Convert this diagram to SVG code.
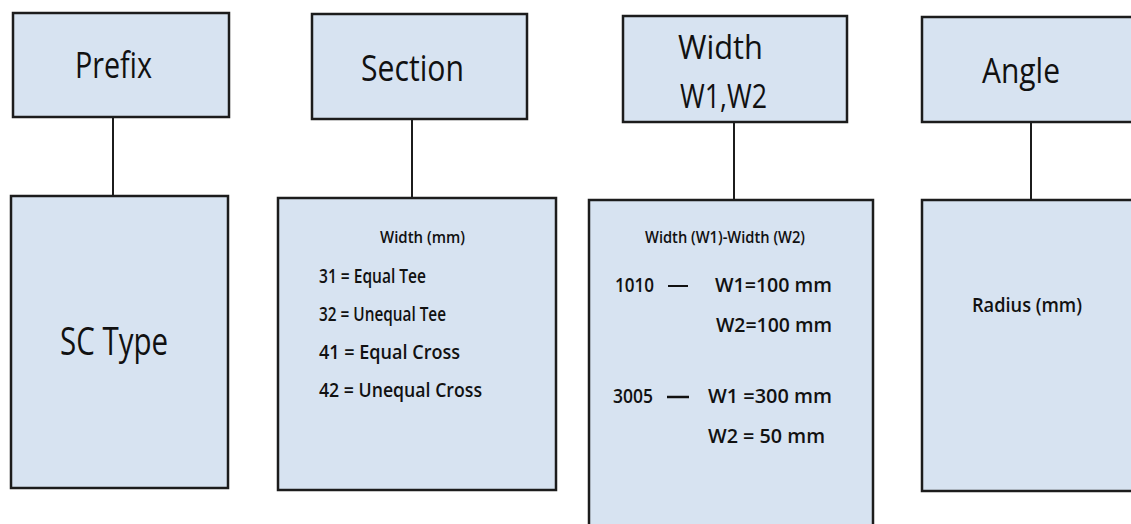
<svg xmlns="http://www.w3.org/2000/svg" width="1131" height="524" viewBox="0 0 1131 524">
<style>
.box{fill:#d7e3f1;stroke:#1c1c1c;stroke-width:2.5}
.conn{stroke:#1c1c1c;stroke-width:2;fill:none}
.big{font-family:"Open Sans","Noto Sans",sans-serif;fill:#111;font-weight:500}
.sm{font-family:"Open Sans","Noto Sans",sans-serif;fill:#111;font-weight:600;font-size:16.5px}
.md{font-family:"Open Sans","Noto Sans",sans-serif;fill:#111;font-weight:600;font-size:19px}
</style>
<rect width="1131" height="524" fill="#ffffff"/>
<g id="connectors">
<line class="conn" x1="113" y1="117" x2="113" y2="196"/>
<line class="conn" x1="412" y1="119" x2="412" y2="198"/>
<line class="conn" x1="734" y1="122" x2="734" y2="200"/>
<line class="conn" x1="1031" y1="122" x2="1031" y2="200"/>
</g>
<g id="prefix">
<rect class="box" x="13" y="13" width="216" height="104"/>
<text class="big" x="75" y="78" font-size="37" textLength="77" lengthAdjust="spacingAndGlyphs">Prefix</text>
</g>
<g id="sc-type">
<rect class="box" x="11" y="196" width="217" height="292"/>
<text class="big" x="60" y="355" font-size="38" textLength="108" lengthAdjust="spacingAndGlyphs">SC Type</text>
</g>
<g id="section">
<rect class="box" x="312" y="14" width="215" height="105"/>
<text class="big" x="361" y="81" font-size="37" textLength="103" lengthAdjust="spacingAndGlyphs">Section</text>
</g>
<g id="section-detail">
<rect class="box" x="278" y="198" width="278" height="292"/>
<text class="sm" x="380" y="243" textLength="85" lengthAdjust="spacingAndGlyphs">Width (mm)</text>
<text class="md" x="319" y="283" textLength="107" lengthAdjust="spacingAndGlyphs">31 = Equal Tee</text>
<text class="md" x="319" y="321" textLength="127" lengthAdjust="spacingAndGlyphs">32 = Unequal Tee</text>
<text class="md" x="319" y="359" textLength="141" lengthAdjust="spacingAndGlyphs">41 = Equal Cross</text>
<text class="md" x="319" y="397" textLength="163" lengthAdjust="spacingAndGlyphs">42 = Unequal Cross</text>
</g>
<g id="width">
<rect class="box" x="623" y="16" width="224" height="106"/>
<text class="big" x="678" y="59" font-size="33" textLength="85" lengthAdjust="spacingAndGlyphs">Width</text>
<text class="big" x="680" y="108" font-size="33" textLength="87" lengthAdjust="spacingAndGlyphs">W1,W2</text>
</g>
<g id="width-detail">
<rect class="box" x="589" y="200" width="284" height="340"/>
<text class="sm" x="645" y="243" textLength="160" lengthAdjust="spacingAndGlyphs">Width (W1)-Width (W2)</text>
<text class="md" x="615" y="292" textLength="39" lengthAdjust="spacingAndGlyphs">1010</text>
<line x1="668" y1="286" x2="688" y2="286" stroke="#111" stroke-width="2"/>
<text class="md" x="715" y="292" textLength="117" lengthAdjust="spacingAndGlyphs">W1=100 mm</text>
<text class="md" x="716" y="332" textLength="116" lengthAdjust="spacingAndGlyphs">W2=100 mm</text>
<text class="md" x="613" y="403" textLength="40" lengthAdjust="spacingAndGlyphs">3005</text>
<line x1="667" y1="397" x2="689" y2="397" stroke="#111" stroke-width="2.5"/>
<text class="md" x="708" y="403" textLength="124" lengthAdjust="spacingAndGlyphs">W1 =300 mm</text>
<text class="md" x="708" y="443" textLength="117" lengthAdjust="spacingAndGlyphs">W2 = 50 mm</text>
</g>
<g id="angle">
<rect class="box" x="922" y="17" width="215" height="105"/>
<text class="big" x="982" y="83" font-size="34" textLength="78" lengthAdjust="spacingAndGlyphs">Angle</text>
</g>
<g id="radius">
<rect class="box" x="922" y="200" width="215" height="291"/>
<text class="md" x="972" y="312" font-weight="500" font-size="19" textLength="110" lengthAdjust="spacingAndGlyphs">Radius (mm)</text>
</g>
</svg>
